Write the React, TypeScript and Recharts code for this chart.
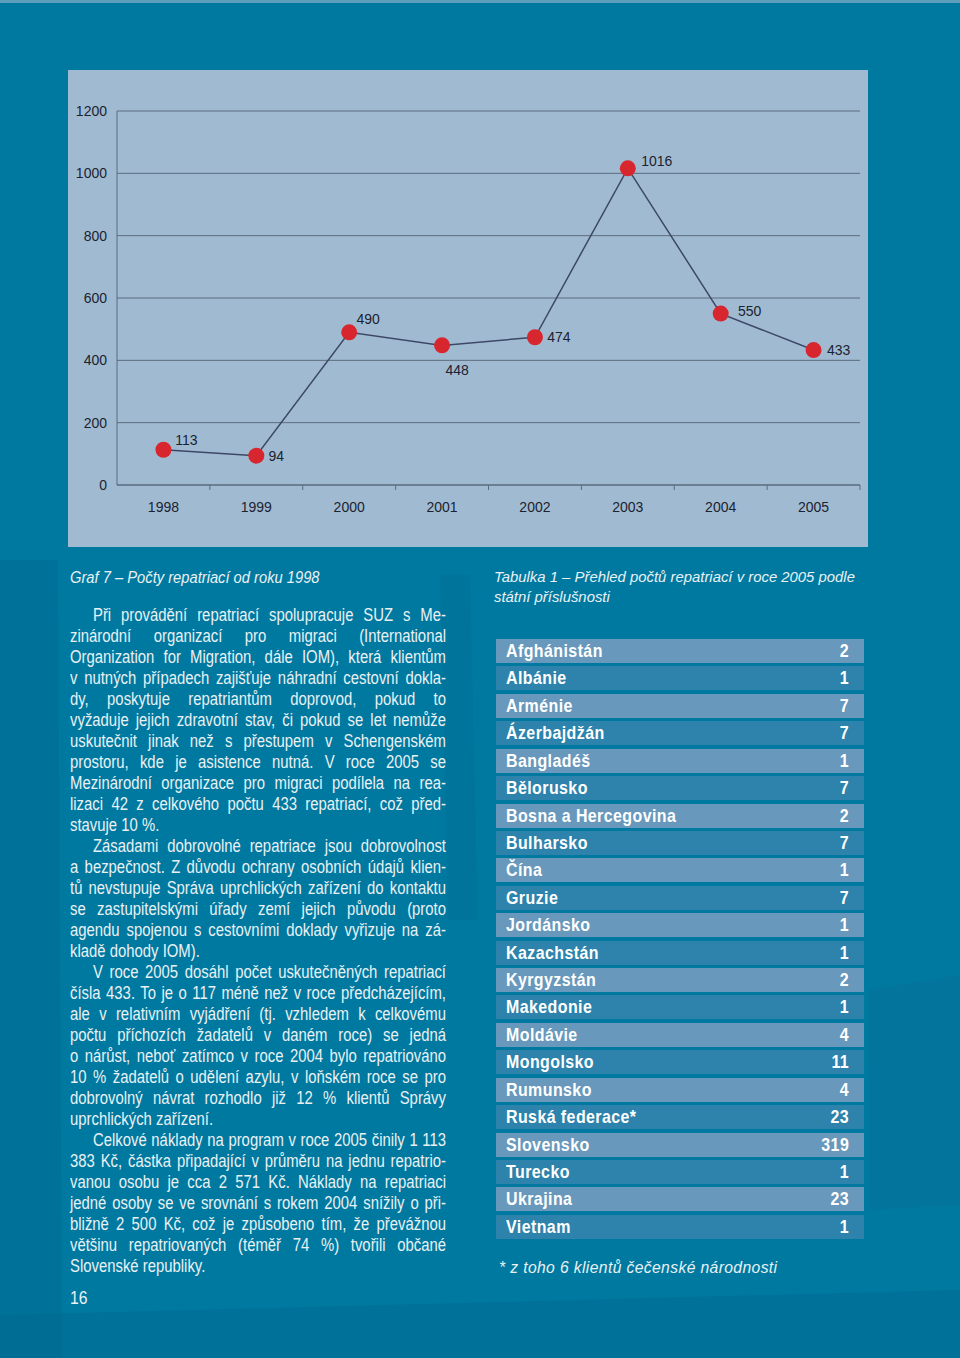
import { LineChart, Line, XAxis, YAxis, CartesianGrid, LabelList } from "recharts";

const YEARS = ["1998", "1999", "2000", "2001", "2002", "2003", "2004", "2005"];
const REPATRIATIONS = [113, 94, 490, 448, 474, 1016, 550, 433];
const Y_TICKS = [0, 200, 400, 600, 800, 1000, 1200];

const COUNTRIES = [
  "Afghánistán", "Albánie", "Arménie", "Ázerbajdžán", "Bangladéš", "Bělorusko",
  "Bosna a Hercegovina", "Bulharsko", "Čína", "Gruzie", "Jordánsko", "Kazachstán",
  "Kyrgyzstán", "Makedonie", "Moldávie", "Mongolsko", "Rumunsko", "Ruská federace*",
  "Slovensko", "Turecko", "Ukrajina", "Vietnam",
];
const COUNTRY_COUNTS = [2, 1, 7, 7, 1, 7, 2, 7, 1, 7, 1, 1, 2, 1, 4, 11, 4, 23, 319, 1, 23, 1];

// label offsets around each dot (dx, dy)
const LABEL_POS = [
  [23, -10], [20, 0], [19, -13], [15, 25], [24, 0], [29, -7], [29, -3], [25, 0],
];

// text lines as broken in the original; "i" = indented, "l" = last line of paragraph
const TEXT_LINES: [string, string][] = [
  ["i", "Při provádění repatriací spolupracuje SUZ s Me-"],
  ["", "zinárodní organizací pro migraci (International"],
  ["", "Organization for Migration, dále IOM), která klientům"],
  ["", "v nutných případech zajišťuje náhradní cestovní dokla-"],
  ["", "dy, poskytuje repatriantům doprovod, pokud to"],
  ["", "vyžaduje jejich zdravotní stav, či pokud se let nemůže"],
  ["", "uskutečnit jinak než s přestupem v Schengenském"],
  ["", "prostoru, kde je asistence nutná. V roce 2005 se"],
  ["", "Mezinárodní organizace pro migraci podílela na rea-"],
  ["", "lizaci 42 z celkového počtu 433 repatriací, což před-"],
  ["l", "stavuje 10 %."],
  ["i", "Zásadami dobrovolné repatriace jsou dobrovolnost"],
  ["", "a bezpečnost. Z důvodu ochrany osobních údajů klien-"],
  ["", "tů nevstupuje Správa uprchlických zařízení do kontaktu"],
  ["", "se zastupitelskými úřady zemí jejich původu (proto"],
  ["", "agendu spojenou s cestovními doklady vyřizuje na zá-"],
  ["l", "kladě dohody IOM)."],
  ["i", "V roce 2005 dosáhl počet uskutečněných repatriací"],
  ["", "čísla 433. To je o 117 méně než v roce předcházejícím,"],
  ["", "ale v relativním vyjádření (tj. vzhledem k celkovému"],
  ["", "počtu příchozích žadatelů v daném roce) se jedná"],
  ["", "o nárůst, neboť zatímco v roce 2004 bylo repatriováno"],
  ["", "10 % žadatelů o udělení azylu, v loňském roce se pro"],
  ["", "dobrovolný návrat rozhodlo již 12 % klientů Správy"],
  ["l", "uprchlických zařízení."],
  ["i", "Celkové náklady na program v roce 2005 činily 1 113"],
  ["", "383 Kč, částka připadající v průměru na jednu repatrio-"],
  ["", "vanou osobu je cca 2 571 Kč. Náklady na repatriaci"],
  ["", "jedné osoby se ve srovnání s rokem 2004 snížily o při-"],
  ["", "bližně 2 500 Kč, což je způsobeno tím, že převážnou"],
  ["", "většinu repatriovaných (téměř 74 %) tvořili občané"],
  ["l", "Slovenské republiky."],
];

const CHART_W = 800;
const CHART_H = 477;
const MARGIN = { top: 41, right: 8, left: 0, bottom: 0 };
const Y_W = 49;
const BAND = (CHART_W - MARGIN.right - Y_W) / YEARS.length;

const SANS = "'Liberation Sans', Arial, sans-serif";
const AXIS_COLOR = "#5b6b7c";
const TEXT_COL_W = 376;
const SQUEEZE = 0.85;
const TABLE_SQUEEZE = 0.84;

const data = YEARS.map((year, i) => ({ year, value: REPATRIATIONS[i] }));

function YearTick(props: any) {
  const { x, y, payload } = props;
  return (
    <g>
      <line x1={x + BAND / 2} x2={x + BAND / 2} y1={y} y2={y + 5} stroke={AXIS_COLOR} />
      <text x={x} y={y + 22} textAnchor="middle" dominantBaseline="central" fontSize={14} fill="#1c2230" fontFamily={SANS}>
        {payload.value}
      </text>
    </g>
  );
}

function PointLabel(props: any) {
  const { x, y, value, index } = props;
  const [dx, dy] = LABEL_POS[index] || [20, 0];
  return (
    <text x={x + dx} y={y + dy} textAnchor="middle" dominantBaseline="central" fontSize={14} fill="#1c2230" fontFamily={SANS}>
      {value}
    </text>
  );
}

function RepatriationChart() {
  return (
    <div style={{ position: "absolute", left: 68, top: 70, width: CHART_W, height: CHART_H, background: "#a0bbd1" }}>
      <LineChart width={CHART_W} height={CHART_H} data={data} margin={MARGIN}>
        <CartesianGrid yAxisId="left" vertical={false} stroke={AXIS_COLOR} />
        <XAxis
          dataKey="year"
          height={62}
          padding={{ left: BAND / 2, right: BAND / 2 }}
          axisLine={{ stroke: AXIS_COLOR }}
          tickLine={false}
          tickSize={0}
          tickMargin={0}
          tick={<YearTick />}
          interval={0}
        />
        <YAxis
          yAxisId="left"
          width={Y_W}
          domain={[0, 1200]}
          ticks={Y_TICKS}
          axisLine={{ stroke: AXIS_COLOR }}
          tickLine={false}
          tickMargin={4}
          tick={{ fontSize: 14, fill: "#1c2230", fontFamily: SANS }}
        />
        <YAxis yAxisId="right" orientation="right" width={0} tick={false} axisLine={{ stroke: AXIS_COLOR }} tickLine={false} />
        <Line
          yAxisId="left"
          type="linear"
          dataKey="value"
          stroke="#3d4866"
          strokeWidth={1.5}
          dot={{ r: 8, fill: "#d8262f", stroke: "#d8262f", strokeWidth: 0 }}
          activeDot={false}
          isAnimationActive={false}
        >
          <LabelList dataKey="value" content={<PointLabel />} />
        </Line>
      </LineChart>
    </div>
  );
}

export default function App() {
  return (
    <div style={{ position: "absolute", left: 0, top: 0, width: 960, height: 1358, background: "#0079a0", overflow: "hidden", fontFamily: SANS, color: "#e9f1f5" }}>
      {/* faint background shapes */}
      <svg width={960} height={1358} style={{ position: "absolute", left: 0, top: 0 }}>
        <rect x={0} y={0} width={960} height={3} fill="#5c9ebb" />
        <polygon points="0,560 58,560 62,1358 0,1358" fill="#00698f" opacity={0.4} />
        <polygon points="440,575 470,575 478,920 448,920" fill="#00698f" opacity={0.3} />
        <polygon points="0,1315 960,1290 960,1358 0,1358" fill="#006a90" opacity={0.5} />
        <polygon points="868,990 960,975 960,1205 870,1210" fill="#0a6f95" opacity={0.35} />
      </svg>

      <RepatriationChart />

      <div style={{ position: "absolute", left: 70, top: 569, fontSize: 16, fontStyle: "italic", transform: "scaleX(0.92)", transformOrigin: "0 0", whiteSpace: "nowrap" }}>
        Graf 7 – Počty repatriací od roku 1998
      </div>

      <div style={{ position: "absolute", left: 70, top: 605, width: TEXT_COL_W, fontSize: 17.5, lineHeight: "21px" }}>
        {TEXT_LINES.map(([kind, line], i) => (
          <div
            key={i}
            style={{
              width: TEXT_COL_W / SQUEEZE,
              boxSizing: "border-box",
              transform: `scaleX(${SQUEEZE})`,
              transformOrigin: "0 0",
              textAlign: kind === "l" ? "left" : "justify",
              textAlignLast: kind === "l" ? "left" : "justify",
              paddingLeft: kind === "i" ? 23 / SQUEEZE : 0,
              whiteSpace: "nowrap",
            }}
          >
            {line}
          </div>
        ))}
      </div>

      <div style={{ position: "absolute", left: 70, top: 1288, fontSize: 17.5, transform: "scaleX(0.9)", transformOrigin: "0 0" }}>16</div>

      <div style={{ position: "absolute", left: 494, top: 567, fontSize: 15.5, fontStyle: "italic", lineHeight: "20px", transform: "scaleX(0.96)", transformOrigin: "0 0", whiteSpace: "nowrap" }}>
        Tabulka 1 – Přehled počtů repatriací v roce 2005 podle
        <br />
        státní příslušnosti
      </div>

      <div style={{ position: "absolute", left: 496, top: 639, width: 368 }}>
        {COUNTRIES.map((country, i) => (
          <div
            key={country}
            style={{
              height: 24,
              marginBottom: 3.43,
              background: i % 2 === 0 ? "#6898bb" : "#2d83ab",
              position: "relative",
              fontWeight: "bold",
              fontSize: 19,
              lineHeight: "24px",
              color: "#ffffff",
              letterSpacing: 0.5,
            }}
          >
            <span style={{ position: "absolute", left: 10, top: 0, transform: `scaleX(${TABLE_SQUEEZE})`, transformOrigin: "0 0", whiteSpace: "nowrap" }}>
              {country}
            </span>
            <span style={{ position: "absolute", right: 15, top: 0, transform: `scaleX(${TABLE_SQUEEZE})`, transformOrigin: "100% 0", whiteSpace: "nowrap" }}>
              {COUNTRY_COUNTS[i]}
            </span>
          </div>
        ))}
      </div>

      <div style={{ position: "absolute", left: 499, top: 1258, fontSize: 16.5, fontStyle: "italic", letterSpacing: 0.4, transform: "scaleX(0.95)", transformOrigin: "0 0", whiteSpace: "nowrap" }}>
        * z toho 6 klientů čečenské národnosti
      </div>
    </div>
  );
}
